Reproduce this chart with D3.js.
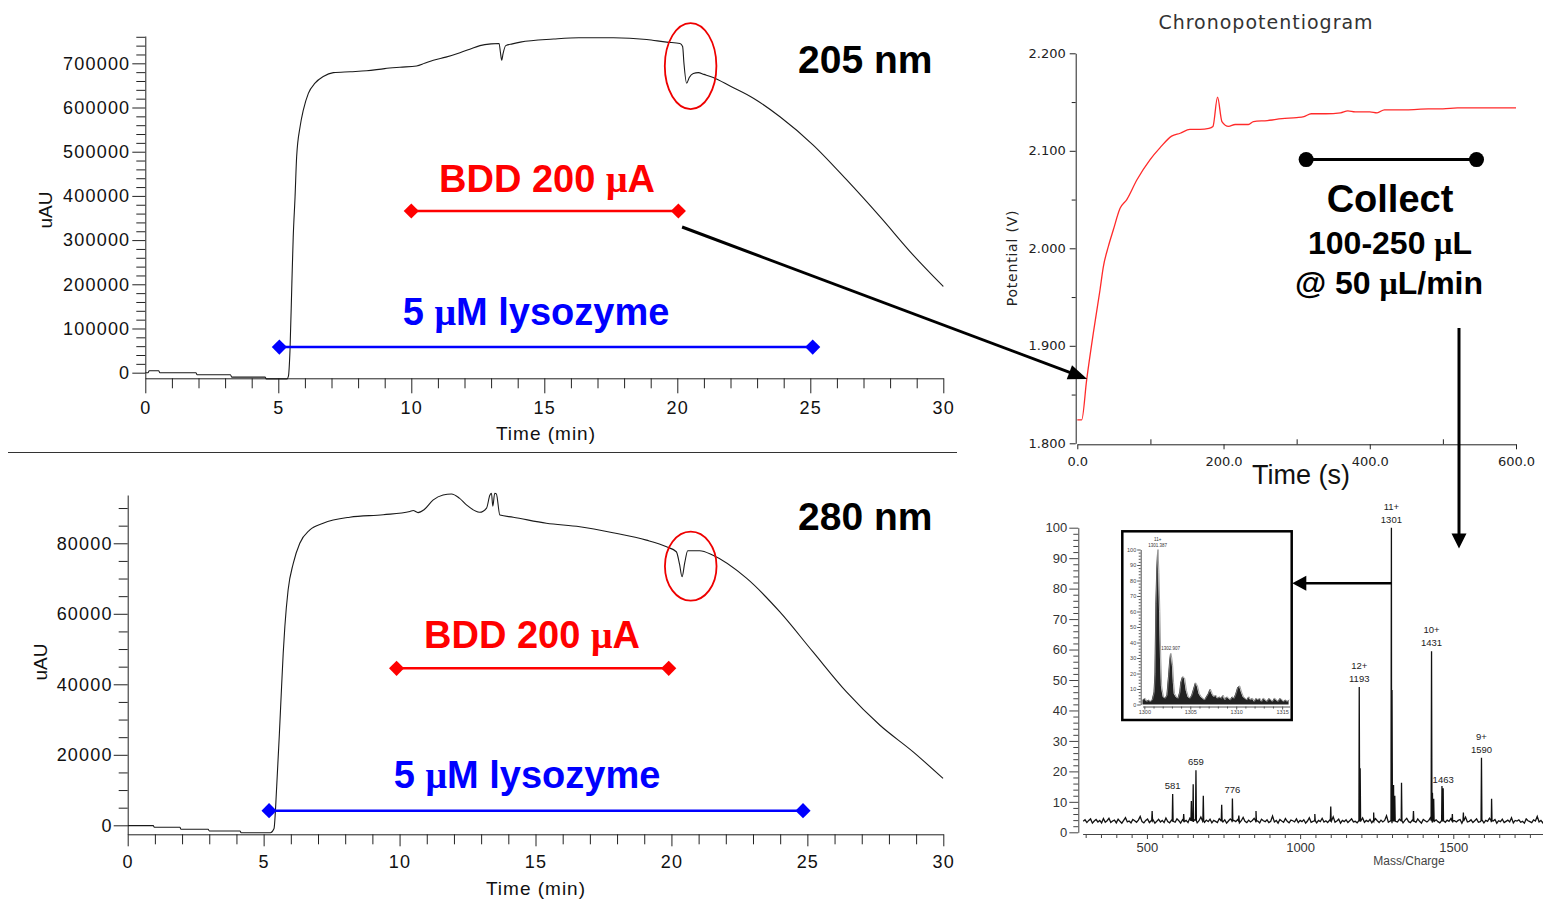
<!DOCTYPE html>
<html><head><meta charset="utf-8">
<script src="https://cdn.jsdelivr.net/npm/d3@7"></script>
<style>body{margin:0;background:#fff}svg{display:block}</style>
</head><body>
<svg id="c" width="1543" height="901"></svg>
<script>
// ---------------- DATA ----------------
const uvTimeTicks = [0, 5, 10, 15, 20, 25, 30];
const uv205Ticks = [0, 100000, 200000, 300000, 400000, 500000, 600000, 700000];
const uv280Ticks = [0, 20000, 40000, 60000, 80000];

const uvTime205 = [0,0.1,0.15,0.5,0.55,1.9,1.95,3.2,3.25,4.5,4.55,5.33,5.38,5.44,5.51,5.56,5.63,5.69,5.82,5.94,6.13,6.38,6.69,7.07,7.7,8.32,9.0,9.57,10.2,10.5,10.83,11.3,11.83,12.2,12.58,13.0,13.3,13.35,13.4,13.45,13.55,13.8,14.1,15.35,16.3,17.6,18.85,19.6,20.1,20.2,20.25,20.35,20.45,20.6,20.79,21.0,21.35,22.0,22.86,23.86,25.11,26.37,27.62,28.87,30.0];
const uv205 = [0,0,4500,4500,0,0,-4500,-4500,-10000,-10000,-14000,-14000,-8000,51000,202000,305000,398000,489000,557000,594000,632000,655000,670000,679000,681000,683000,688000,691000,694000,700000,707000,714000,724000,732000,740000,744000,745000,725000,707000,722000,740000,744000,748000,755000,758000,758000,754000,748000,745000,738000,700000,655000,668000,677000,679000,675000,668000,648000,621000,579000,515000,436000,353000,266000,195000];

const uvTime280 = [0,0.94,0.98,1.92,1.96,2.96,3.0,4.13,4.17,5.25,5.38,5.48,5.58,5.66,5.72,5.78,5.9,6.09,6.33,6.7,7.19,8.17,9.4,10.38,10.5,10.68,10.9,11.24,11.6,11.91,12.2,12.46,12.95,13.2,13.32,13.38,13.43,13.5,13.56,13.69,14.18,15.4,16.63,17.85,19.08,19.82,20.18,20.3,20.39,20.49,20.6,21.04,21.53,22.76,23.98,25.2,26.43,27.66,28.88,29.99];
const uv280 = [-100,-100,-570,-570,-1130,-1130,-1600,-1600,-2100,-2100,-1000,10950,26100,39300,48800,56300,66750,74300,80000,83800,85700,87400,88100,89000,89300,88700,89500,92300,93700,94000,92800,90900,88800,90000,93600,94200,90500,94200,94000,88000,87400,85700,84700,83000,80900,79000,77600,74000,70500,74500,77900,77900,76600,70100,60600,49250,37900,28450,20900,13300];

// annotation bars: [start min, end min, level]
const bdd205 = [10.0, 20.04, 365800];
const lyso205 = [5.04, 25.09, 58000];
const bdd280 = [9.89, 19.9, 44540];
const lyso280 = [5.2, 24.84, 4140];

const chronoXTicks = [0, 200, 400, 600];
const chronoYTicks = [1.8, 1.9, 2.0, 2.1, 2.2];
const chronoTime = [0,6,12.8,21.9,31,35.6,42.5,49.3,58.5,67.7,81.4,99.6,113,129,140.7,154,168,180,185.5,191.8,197.8,206.8,216,234,241,260,280,300,310,320,340,360,370,380,400,410,420,450,480,500,520,550,580,600];
const chronoPotential = [1.824,1.824,1.865,1.913,1.957,1.981,2.002,2.019,2.041,2.050,2.070,2.091,2.103,2.115,2.118,2.122,2.122,2.123,2.125,2.155,2.130,2.125,2.127,2.127,2.130,2.131,2.133,2.134,2.135,2.138,2.138,2.139,2.141,2.140,2.140,2.139,2.142,2.142,2.143,2.143,2.144,2.144,2.144,2.144];
const collectRange = [313, 546, 2.091];

const msXTicks = [500, 1000, 1500];
const msYTicks = [0,10,20,30,40,50,60,70,80,90,100];
const msNoiseStart = 292, msNoiseStep = 6;
const msNoise = [
3.6,4.1,3.2,3.9,4.4,3.0,3.7,4.2,3.4,3.9,3.1,4.5,
3.3,3.8,4.6,3.2,3.7,4.0,3.1,4.3,3.6,3.0,3.9,4.8,
3.4,3.7,3.1,4.2,3.8,3.3,4.0,5.2,3.5,3.1,3.9,4.4,
3.2,3.8,4.1,3.0,3.6,4.3,3.4,3.9,3.2,4.7,3.5,3.1,
4.0,3.6,3.3,4.4,3.8,3.0,4.1,3.5,3.9,3.2,4.6,3.7,
3.4,4.2,3.1,3.8,5.0,3.6,3.3,4.0,3.5,4.3,3.1,3.9,
3.6,3.2,4.5,3.8,3.4,4.1,3.0,3.7,4.4,3.3,3.9,3.5,
4.2,3.1,3.8,4.9,3.6,3.2,4.0,3.4,3.9,4.6,3.3,3.7,
3.1,4.3,3.8,3.5,4.1,3.2,3.6,5.3,3.4,3.9,3.0,4.2,
3.7,3.3,4.5,3.6,3.1,4.0,3.8,3.4,4.4,3.2,3.9,3.5,
4.1,3.0,3.7,4.8,3.3,3.6,4.2,3.1,3.9,3.5,4.6,3.4,
3.8,3.2,4.0,3.6,5.1,3.3,3.7,4.3,3.0,3.9,3.5,4.1,
3.2,3.8,4.4,3.4,3.6,3.1,4.0,3.7,4.7,3.3,3.9,3.5,
4.2,3.1,3.6,4.5,3.8,3.2,4.0,3.4,3.9,5.4,3.3,3.7,
3.0,4.1,3.6,3.4,4.3,3.8,3.1,3.9,4.6,3.5,3.2,4.0,
3.7,3.3,4.4,3.6,3.0,4.2,3.8,3.4,3.9,4.9,3.2,3.6,
4.1,3.5,3.1,4.3,3.7,3.3,4.0,3.6,4.5,3.2,3.8,3.4,
3.9,4.2,3.0,3.7,5.0,3.4,3.6,4.1,3.2,3.8,4.4,3.3,
3.5,4.0,3.1,3.9,3.6,4.6,3.3,3.7,4.2,3.0,3.8,3.5,
4.3,3.2,3.6,4.0,3.4,4.8,3.1,3.9,3.7,4.1,3.3,3.6,
3.0,4.4,3.8,3.5,3.2,4.1,3.7,5.2,3.4,3.9,3.1,4.0];
const msPeakMz  = [517,584,620,645,651,660,684,744,779,800,856,1048,1100,1193,1196,1240,1298,1300,1305,1309,1331,1370,1429,1432,1436,1463,1467,1497,1533,1592,1625];
const msPeakInt = [7,12.6,6,10.3,15.8,20.4,12,9,11.1,5.5,7,6,8.5,47.7,21,6.5,100,46.7,15.5,12,16.3,7,59.4,13,11,15.2,14.5,6,6.5,24.5,11];
const msLabelMz    = [1298, 1429, 1193, 1592, 660, 584, 779, 1467];
const msLabelInt   = [100, 59.4, 47.7, 24.5, 20.4, 12.6, 11.1, 14.5];
const msLabelCharge = ["11+", "10+", "12+", "9+", "", "", "", ""];
const msLabelText  = ["1301", "1431", "1193", "1590", "659", "581", "776", "1463"];

const insetXTicks = [1300, 1305, 1310, 1315];
const insetYTicks = [0,10,20,30,40,50,60,70,80,90,100];
const insetProfile = [[1299.8,3],[1300.0,4],[1300.2,2],[1300.4,3],[1300.6,2],[1300.8,3],[1301.0,8],[1301.1,20],[1301.2,65],[1301.3,88],[1301.4,100],[1301.5,85],[1301.6,60],[1301.7,30],[1301.8,12],[1301.9,8],[1302.0,5],[1302.2,4],[1302.4,6],[1302.6,20],[1302.7,28],[1302.8,33],[1302.9,30],[1303.0,25],[1303.1,14],[1303.2,7],[1303.4,5],[1303.6,4],[1303.8,8],[1303.9,14],[1304.1,18],[1304.3,17],[1304.5,9],[1304.7,5],[1304.9,4],[1305.1,6],[1305.3,10],[1305.5,14],[1305.7,12],[1305.9,7],[1306.1,5],[1306.3,4],[1306.5,3],[1306.7,5],[1306.9,7],[1307.1,10],[1307.3,7],[1307.5,5],[1307.7,6],[1307.9,4],[1308.1,5],[1308.3,4],[1308.5,6],[1308.7,3],[1308.9,5],[1309.1,4],[1309.3,3],[1309.5,5],[1309.7,4],[1309.9,7],[1310.1,11],[1310.3,12],[1310.5,8],[1310.7,5],[1310.9,4],[1311.1,3],[1311.3,5],[1311.5,3],[1311.7,4],[1311.9,2],[1312.1,4],[1312.3,3],[1312.5,4],[1312.7,2],[1312.9,4],[1313.1,3],[1313.3,2],[1313.5,4],[1313.7,3],[1313.9,2],[1314.1,4],[1314.3,3],[1314.5,2],[1314.7,4],[1314.9,3],[1315.1,2],[1315.3,3],[1315.5,2],[1315.7,3]];
const insetLabels = [[1301.45, 100, "11+", "1301.387"], [1302.85, 33, "", "1302.907"]];

// ---------------- DRAWING ----------------
const FONT = "'Liberation Sans', Arial, Helvetica, sans-serif";
const SERIF = "'Liberation Serif', 'Times New Roman', serif";
const DJ = "'DejaVu Sans', Verdana, sans-serif";
const svg = d3.select("#c");
const fmtInt = d3.format("d");

function styleAxis(a, opt) {
  a.selectAll("text").attr("font-family", opt.font || FONT).attr("font-size", opt.size)
    .attr("fill", opt.color || "#111").attr("letter-spacing", opt.ls || 0);
  a.selectAll("line,path").attr("stroke", opt.stroke || "#222").attr("stroke-width", 1);
}
function muText(sel, before, after) {
  sel.append("tspan").text(before);
  sel.append("tspan").attr("font-family", SERIF).text("\u03bc");
  sel.append("tspan").text(after);
}
function arrow(g, x1, y1, x2, y2, hl, hw, sw) {
  const dx = x2 - x1, dy = y2 - y1, L = Math.hypot(dx, dy), ux = dx / L, uy = dy / L;
  const bx = x2 - ux * hl, by = y2 - uy * hl;
  g.append("line").attr("x1", x1).attr("y1", y1).attr("x2", bx + ux).attr("y2", by + uy)
    .attr("stroke", "#000").attr("stroke-width", sw);
  g.append("path").attr("d", `M${x2},${y2}L${bx - uy * hw},${by + ux * hw}L${bx + uy * hw},${by - ux * hw}Z`).attr("fill", "#000");
}
const diamond = d3.symbol().type(d3.symbolSquare).size(115);

function uvChart(cfg) {
  const g = svg.append("g");
  const x = cfg.x, y = cfg.y;
  const x0 = x.range()[0], yb = y.range()[0];
  const ym = g.append("g").attr("transform", `translate(${x0},0)`)
    .call(d3.axisLeft(y).tickValues(cfg.yMinor).tickSize(9).tickFormat(""));
  ym.select(".domain").remove(); styleAxis(ym, {size: 1});
  const ya = g.append("g").attr("transform", `translate(${x0},0)`)
    .call(d3.axisLeft(y).tickValues(cfg.yTicks).tickSize(cfg.yTick).tickSizeOuter(0).tickPadding(cfg.yPad).tickFormat(fmtInt));
  styleAxis(ya, {size: 18, ls: "1.2px"});
  const xm = g.append("g").attr("transform", `translate(0,${yb})`)
    .call(d3.axisBottom(x).tickValues(d3.range(1, 30).filter(v => v % 5 !== 0)).tickSize(10).tickFormat(""));
  xm.select(".domain").remove(); styleAxis(xm, {size: 1});
  const xa = g.append("g").attr("transform", `translate(0,${yb})`)
    .call(d3.axisBottom(x).tickValues(uvTimeTicks).tickSize(cfg.xTick).tickSizeOuter(0).tickPadding(cfg.xPad));
  styleAxis(xa, {size: 18, ls: "1.2px"});
  g.append("text").attr("x", cfg.xLabel[0]).attr("y", cfg.xLabel[1]).attr("text-anchor", "middle")
    .attr("font-family", FONT).attr("font-size", 19).attr("letter-spacing", "1px").attr("fill", "#111").text("Time (min)");
  g.append("text").attr("transform", `translate(${cfg.yLabel[0]},${cfg.yLabel[1]}) rotate(-90)`).attr("text-anchor", "middle")
    .attr("font-family", FONT).attr("font-size", 19).attr("fill", "#111").text("uAU");
  g.append("path").datum(d3.zip(cfg.time, cfg.vals))
    .attr("d", d3.line().curve(d3.curveMonotoneX).x(d => x(d[0])).y(d => y(d[1])))
    .attr("fill", "none").attr("stroke", "#1a1a1a").attr("stroke-width", 1.1);
  [[cfg.bdd, "#ff0000"], [cfg.lyso, "#0000ff"]].forEach(([b, col]) => {
    g.append("line").attr("x1", x(b[0])).attr("x2", x(b[1])).attr("y1", y(b[2])).attr("y2", y(b[2]))
      .attr("stroke", col).attr("stroke-width", 2.4);
    [b[0], b[1]].forEach(t => g.append("path").attr("d", diamond)
      .attr("transform", `translate(${x(t)},${y(b[2])}) rotate(45)`).attr("fill", col));
  });
  const t1 = g.append("text").attr("x", cfg.bddText[0]).attr("y", cfg.bddText[1]).attr("text-anchor", "middle")
    .attr("font-family", FONT).attr("font-weight", "bold").attr("font-size", 38).attr("fill", "#ff0000");
  muText(t1, "BDD 200 ", "A");
  const t2 = g.append("text").attr("x", cfg.lysoText[0]).attr("y", cfg.lysoText[1]).attr("text-anchor", "middle")
    .attr("font-family", FONT).attr("font-weight", "bold").attr("font-size", 38).attr("fill", "#0000ff");
  muText(t2, "5 ", "M lysozyme");
  g.append("text").attr("x", 798).attr("y", cfg.nmY).attr("font-family", FONT).attr("font-weight", "bold")
    .attr("font-size", 39).attr("fill", "#000").text(cfg.nm);
  g.append("ellipse").attr("cx", cfg.ell[0]).attr("cy", cfg.ell[1]).attr("rx", cfg.ell[2]).attr("ry", cfg.ell[3])
    .attr("fill", "none").attr("stroke", "#ee0000").attr("stroke-width", 1.8);
  return g;
}

// ---- top UV (205 nm)
const xT = d3.scaleLinear().domain([0, 30]).range([145.3, 943.3]);
const yT = d3.scaleLinear().domain([-12700, 761800]).range([378.3, 36]);
uvChart({x: xT, y: yT, time: uvTime205, vals: uv205, yTicks: uv205Ticks,
  yMinor: d3.range(20000, 761000, 20000).filter(v => v % 100000 !== 0),
  yTick: 13, yPad: 2, xTick: 15, xPad: 8, xLabel: [546, 440], yLabel: [52, 210],
  bdd: bdd205, lyso: lyso205, bddText: [xT(15.1), yT(409400)], lysoText: [xT(14.69), yT(107900)],
  nm: "205 nm", nmY: 73, ell: [xT(20.5), yT(693800), 25.8, 43]});

svg.append("line").attr("x1", 8).attr("x2", 957).attr("y1", 452.5).attr("y2", 452.5).attr("stroke", "#333").attr("stroke-width", 1);

// ---- bottom UV (280 nm)
const xB = d3.scaleLinear().domain([0, 30]).range([127.7, 943.3]);
const yB = d3.scaleLinear().domain([-2553, 93700]).range([834.3, 495]);
uvChart({x: xB, y: yB, time: uvTime280, vals: uv280, yTicks: uv280Ticks,
  yMinor: d3.range(5000, 93000, 5000).filter(v => v % 20000 !== 0),
  yTick: 14, yPad: 1, xTick: 12, xPad: 9, xLabel: [536, 895], yLabel: [47, 662],
  bdd: bdd280, lyso: lyso280, bddText: [xB(14.87), yB(50200)], lysoText: [xB(14.69), yB(10500)],
  nm: "280 nm", nmY: 530, ell: [xB(20.71), yB(73500), 25.8, 34.5]});

// ---- Chronopotentiogram
const xC = d3.scaleLinear().domain([0, 600]).range([1077.3, 1516]);
const yC = d3.scaleLinear().domain([1.8, 2.2]).range([443.3, 53.3]);
const gC = svg.append("g");
gC.append("text").attr("x", 1266).attr("y", 28.5).attr("text-anchor", "middle").attr("font-family", DJ)
  .attr("font-size", 19).attr("letter-spacing", "1px").attr("fill", "#333").text("Chronopotentiogram");
const cym = gC.append("g").attr("transform", "translate(1075.7,0)")
  .call(d3.axisLeft(yC).tickValues([1.85, 1.95, 2.05, 2.15]).tickSize(4).tickFormat(""));
cym.select(".domain").remove(); styleAxis(cym, {size: 1});
const cya = gC.append("g").attr("transform", "translate(1075.7,0)")
  .call(d3.axisLeft(yC).tickValues(chronoYTicks).tickSize(6).tickSizeOuter(0).tickPadding(4).tickFormat(d3.format(".3f")));
styleAxis(cya, {size: 13, font: DJ, color: "#222"});
const cxm = gC.append("g").attr("transform", "translate(0,444.3)")
  .call(d3.axisBottom(xC).tickValues([100, 300, 500]).tickSize(-5).tickFormat(""));
cxm.select(".domain").remove(); styleAxis(cxm, {size: 1});
const cxa = gC.append("g").attr("transform", "translate(0,444.3)")
  .call(d3.axisBottom(xC).tickValues(chronoXTicks).tickSize(5).tickSizeOuter(0).tickPadding(7).tickFormat(d3.format(".1f")));
styleAxis(cxa, {size: 13, font: DJ, color: "#222"});
gC.append("text").attr("transform", "translate(1017,258) rotate(-90)").attr("text-anchor", "middle")
  .attr("font-family", DJ).attr("font-size", 14).attr("letter-spacing", "0.8px").attr("fill", "#222").text("Potential (V)");
gC.append("text").attr("x", 1301).attr("y", 484).attr("text-anchor", "middle").attr("font-family", FONT)
  .attr("font-size", 27).attr("fill", "#111").text("Time (s)");
gC.append("path").datum(d3.zip(chronoTime, chronoPotential))
  .attr("d", d3.line().curve(d3.curveMonotoneX).x(d => xC(d[0])).y(d => yC(d[1])))
  .attr("fill", "none").attr("stroke", "#ff2a2a").attr("stroke-width", 1.3);
gC.append("line").attr("x1", xC(collectRange[0])).attr("x2", xC(collectRange[1]))
  .attr("y1", yC(collectRange[2])).attr("y2", yC(collectRange[2])).attr("stroke", "#000").attr("stroke-width", 3);
[collectRange[0], collectRange[1]].forEach(t => gC.append("circle").attr("cx", xC(t)).attr("cy", yC(collectRange[2]))
  .attr("r", 7.5).attr("fill", "#000"));
gC.append("text").attr("x", 1390).attr("y", 212).attr("text-anchor", "middle").attr("font-family", FONT)
  .attr("font-weight", "bold").attr("font-size", 38).attr("fill", "#000").text("Collect");
muText(gC.append("text").attr("x", 1390).attr("y", 254).attr("text-anchor", "middle").attr("font-family", FONT)
  .attr("font-weight", "bold").attr("font-size", 32).attr("fill", "#000"), "100-250 ", "L");
muText(gC.append("text").attr("x", 1389).attr("y", 294).attr("text-anchor", "middle").attr("font-family", FONT)
  .attr("font-weight", "bold").attr("font-size", 32).attr("fill", "#000"), "@ 50 ", "L/min");

// ---- Mass spectrum
const xM = d3.scaleLinear().domain([290, 1800]).range([1082.6, 1545.2]);
const yM = d3.scaleLinear().domain([0, 100]).range([832.3, 527.7]);
const gM = svg.append("g");
const mym = gM.append("g").attr("transform", "translate(1078.3,0)")
  .call(d3.axisLeft(yM).tickValues(d3.range(2, 100, 2).filter(v => v % 10 !== 0)).tickSize(5).tickFormat(""));
mym.select(".domain").remove(); styleAxis(mym, {size: 1, stroke: "#444"});
const mya = gM.append("g").attr("transform", "translate(1078.3,0)")
  .call(d3.axisLeft(yM).tickValues(msYTicks).tickSize(9).tickSizeOuter(0).tickPadding(2).tickFormat(fmtInt));
styleAxis(mya, {size: 13, color: "#333", stroke: "#444"});
const mxm = gM.append("g").attr("transform", "translate(0,834)")
  .call(d3.axisBottom(xM).tickValues(d3.range(300, 1801, 50).filter(v => v % 500 !== 0)).tickSize(4).tickFormat(""));
mxm.select(".domain").remove(); styleAxis(mxm, {size: 1, stroke: "#444"});
const mxa = gM.append("g").attr("transform", "translate(0,834)")
  .call(d3.axisBottom(xM).tickValues(msXTicks).tickSize(5).tickSizeOuter(0).tickPadding(4).tickFormat(fmtInt));
styleAxis(mxa, {size: 13, color: "#333", stroke: "#444"});
gM.append("text").attr("x", 1409).attr("y", 865).attr("text-anchor", "middle").attr("font-family", FONT)
  .attr("font-size", 12).attr("fill", "#444").text("Mass/Charge");
const msPts = msNoise.map((v, i) => [msNoiseStart + i * msNoiseStep, v]);
msPeakMz.forEach((m, i) => { msPts.push([m - 1.4, 3.8], [m, msPeakInt[i]], [m + 1.4, 3.8]); });
msPts.sort((a, b) => a[0] - b[0]);
gM.append("path").datum(msPts).attr("d", d3.line().x(d => xM(d[0])).y(d => yM(d[1])))
  .attr("fill", "none").attr("stroke", "#111").attr("stroke-width", 1.3);
msLabelMz.forEach((m, i) => {
  const top = yM(msLabelInt[i]);
  gM.append("text").attr("x", xM(m)).attr("y", top - 5).attr("text-anchor", "middle").attr("font-family", FONT)
    .attr("font-size", 9.5).attr("fill", "#222").text(msLabelText[i]);
  if (msLabelCharge[i]) gM.append("text").attr("x", xM(m)).attr("y", top - 18).attr("text-anchor", "middle")
    .attr("font-family", FONT).attr("font-size", 9.5).attr("fill", "#222").text(msLabelCharge[i]);
});

// ---- inset
const gI = svg.append("g");
gI.append("rect").attr("x", 1122.3).attr("y", 531.3).attr("width", 169.4).attr("height", 188.7)
  .attr("fill", "#fff").attr("stroke", "#000").attr("stroke-width", 2.5);
const xI = d3.scaleLinear().domain([1299.8, 1315.8]).range([1142.5, 1289.5]);
const yI = d3.scaleLinear().domain([0, 100]).range([704.5, 549.5]);
const iym = gI.append("g").attr("transform", "translate(1140.7,0)")
  .call(d3.axisLeft(yI).tickValues(d3.range(2, 100, 2).filter(v => v % 10 !== 0)).tickSize(2).tickFormat(""));
iym.select(".domain").remove(); styleAxis(iym, {size: 1, stroke: "#555"});
const iya = gI.append("g").attr("transform", "translate(1140.7,0)")
  .call(d3.axisLeft(yI).tickValues(insetYTicks).tickSize(3.5).tickSizeOuter(0).tickPadding(1).tickFormat(fmtInt));
styleAxis(iya, {size: 5.5, color: "#444", stroke: "#555"});
const ixm = gI.append("g").attr("transform", "translate(0,706.5)")
  .call(d3.axisBottom(xI).tickValues(d3.range(1300, 1316, 1).filter(v => v % 5 !== 0)).tickSize(2).tickFormat(""));
ixm.select(".domain").remove(); styleAxis(ixm, {size: 1, stroke: "#555"});
const ixa = gI.append("g").attr("transform", "translate(0,706.5)")
  .call(d3.axisBottom(xI).tickValues(insetXTicks).tickSize(3).tickSizeOuter(0).tickPadding(1).tickFormat(fmtInt));
styleAxis(ixa, {size: 5.5, color: "#444", stroke: "#555"});
gI.append("path").datum(insetProfile)
  .attr("d", d3.area().x(d => xI(d[0])).y0(yI(0)).y1(d => yI(d[1])))
  .attr("fill", "#222");
gI.append("path").datum(insetProfile)
  .attr("d", d3.line().x(d => xI(d[0]) + 0.8).y(d => yI(d[1])))
  .attr("fill", "none").attr("stroke", "#888").attr("stroke-width", 0.8);
insetLabels.forEach(l => {
  gI.append("text").attr("x", xI(l[0])).attr("y", yI(l[1]) - 3).attr("text-anchor", "middle")
    .attr("font-family", FONT).attr("font-size", 4.5).attr("fill", "#333").text(l[3]);
  if (l[2]) gI.append("text").attr("x", xI(l[0])).attr("y", yI(l[1]) - 9).attr("text-anchor", "middle")
    .attr("font-family", FONT).attr("font-size", 4.5).attr("fill", "#333").text(l[2]);
});

// ---- arrows
const gA = svg.append("g");
arrow(gA, xT(20.18), yT(329600), xC(13.5), yC(1.866), 19, 7.5, 3);
arrow(gA, 1459, 328, 1459, 548.5, 15, 7.5, 3);
arrow(gA, xM(1298), 583.3, 1292.3, 583.3, 14, 7.5, 2.5);
</script>
</body></html>
